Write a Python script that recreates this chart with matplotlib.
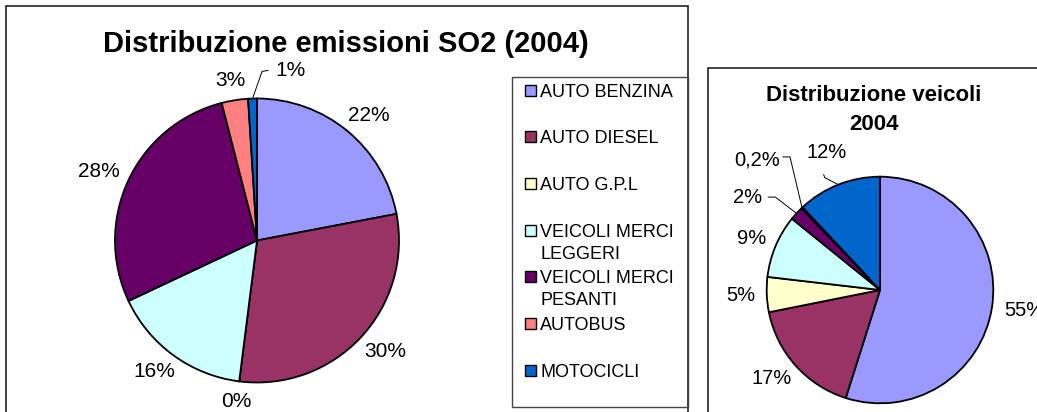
import numpy as np
import matplotlib.pyplot as plt
from matplotlib.patches import Rectangle

plt.rcParams["font.family"] = ["Liberation Sans", "DejaVu Sans"]

categories = ["AUTO BENZINA", "AUTO DIESEL", "AUTO G.P.L", "VEICOLI MERCI\nLEGGERI",
              "VEICOLI MERCI\nPESANTI", "AUTOBUS", "MOTOCICLI"]
colors = ["#9999FF", "#993366", "#FFFFCC", "#CCFFFF", "#660066", "#FF8080", "#0066CC"]

emissions_pct = [22, 30, 0, 16, 28, 3, 1]
emissions_labels = ["22%", "30%", "0%", "16%", "28%", "3%", "1%"]

vehicles_pct = [55, 17, 5, 9, 2, 0.2, 12]
vehicles_labels = ["55%", "17%", "5%", "9%", "2%", "0,2%", "12%"]

W, H = 1037, 412


def py(y):
    # pixel row (top = 0) -> data y
    return H - y


def draw_pie(ax, values, labels, cx, cy, r, fontsize, overrides):
    wedges, _ = ax.pie(values, colors=colors, startangle=90, counterclock=False,
                       center=(cx, py(cy)), radius=r,
                       wedgeprops=dict(edgecolor="black", linewidth=1.3))
    em = fontsize * 100 / 72
    for i, (w, lab) in enumerate(zip(wedges, labels)):
        mid = np.deg2rad((w.theta1 + w.theta2) / 2)
        ux, uy = np.cos(mid), np.sin(mid)
        ex, ey = cx + r * ux, py(cy) + r * uy
        if i in overrides:
            ang, dist, elbow, stub = overrides[i]
            a = np.deg2rad(ang)
            tx, ty = cx + dist * r * np.cos(a), py(cy) + dist * r * np.sin(a)
            ax.plot([ex, tx + elbow[0], tx + stub[0]], [ey, ty - elbow[1], ty - stub[1]],
                    color="black", linewidth=0.7)
        else:
            hw = 0.34 * len(lab) * em
            tx = cx + (r + 12) * ux + hw * ux
            ty = py(cy) + (r + 12) * uy + 8 * uy
        ax.text(tx, ty, lab, ha="center", va="center", fontsize=fontsize)


fig = plt.figure(figsize=(W / 100, H / 100), dpi=100)
ax = fig.add_axes([0, 0, 1, 1])

# chart frames
ax.add_patch(Rectangle((6, py(420)), 682, 414, fill=False, edgecolor="#222222", linewidth=1.2))
ax.add_patch(Rectangle((708, py(420)), 340, 352, fill=False, edgecolor="#222222", linewidth=1.2))

# left chart
draw_pie(ax, emissions_pct, emissions_labels, 257, 240.5, 142, 15,
         {6: (79, 1.22, (-28, 1), (-22, 0))})
ax.text(346, py(52), "Distribuzione emissioni SO2 (2004)", ha="center", va="baseline",
        fontsize=21, fontweight="bold")

# legend
ax.add_patch(Rectangle((512, py(407)), 176, 330, fill=False, edgecolor="#444444", linewidth=1.0))
for k, (cat, col) in enumerate(zip(categories, colors)):
    yc = 90 + k * 46.67
    ax.add_patch(Rectangle((525, py(yc + 5.5)), 11, 11, facecolor=col, edgecolor="black",
                           linewidth=1.0))
    for j, line in enumerate(cat.split("\n")):
        ax.text(540, py(yc + 6.5 + j * 22), line, ha="left", va="baseline", fontsize=13)

# right chart
draw_pie(ax, vehicles_pct, vehicles_labels, 880, 290, 113.3, 14.5,
         {4: (145, 1.43, (28, 0), (21, 0)),
          5: (133.4, 1.58, (33, -3), (26, -3)),
          6: (111.2, 1.30, (-2, 25), (-3, 22))})
ax.text(874, py(101), "Distribuzione veicoli", ha="center", va="baseline",
        fontsize=16, fontweight="bold")
ax.text(874, py(130), "2004", ha="center", va="baseline", fontsize=16, fontweight="bold")

ax.set_xlim(0, W)
ax.set_ylim(0, H)
ax.set_aspect("auto")
ax.axis("off")

fig.savefig("out.png", dpi=100)
plt.close(fig)
